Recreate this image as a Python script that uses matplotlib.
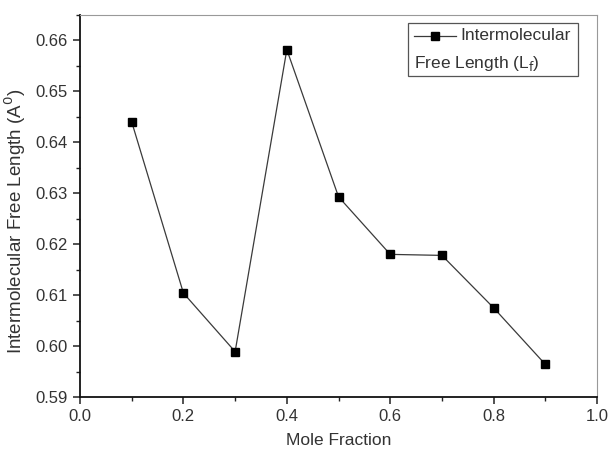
import matplotlib
matplotlib.use('Agg')
import matplotlib.pyplot as plt
from matplotlib.lines import Line2D
from matplotlib.patches import Rectangle
from matplotlib.ticker import MultipleLocator, FormatStrFormatter

plt.rcParams['font.family'] = ['Liberation Sans', 'DejaVu Sans']

# intermolecular free length vs mole fraction
mole_fraction = [0.1, 0.2, 0.3, 0.4, 0.5, 0.6, 0.7, 0.8, 0.9]
free_length = [0.6440, 0.6104, 0.5989, 0.6582, 0.6293, 0.6180, 0.6178, 0.6075, 0.5964]

fig = plt.figure(figsize=(6.08, 4.5), dpi=100)
ax = fig.add_axes([0.1316, 0.1178, 0.8504, 0.8489])

ax.plot(mole_fraction, free_length, color='#3a3a3a', lw=0.9,
        marker='s', markersize=5.5, markerfacecolor='black', markeredgecolor='black')

ax.set_xlim(0.0, 1.0)
ax.set_ylim(0.59, 0.665)
ax.xaxis.set_major_locator(MultipleLocator(0.2))
ax.xaxis.set_minor_locator(MultipleLocator(0.1))
ax.yaxis.set_major_locator(MultipleLocator(0.01))
ax.yaxis.set_minor_locator(MultipleLocator(0.005))
ax.xaxis.set_major_formatter(FormatStrFormatter('%.1f'))
ax.yaxis.set_major_formatter(FormatStrFormatter('%.2f'))

ax.tick_params(which='both', direction='out', top=False, right=False,
               labelsize=12, colors='#222222', labelcolor='#333333')
ax.tick_params(which='major', length=5, width=1.1, pad=4)
ax.tick_params(which='minor', length=3, width=1.0)

for s in ['left', 'bottom']:
    ax.spines[s].set_linewidth(1.3)
    ax.spines[s].set_color('#111111')
for s in ['top', 'right']:
    ax.spines[s].set_linewidth(0.8)
    ax.spines[s].set_color('#999999')

ax.set_xlabel('Mole Fraction', fontsize=12.5, color='#333333', labelpad=6)
ax.set_ylabel('Intermolecular Free Length (A$^0$)', fontsize=13.5, color='#333333')
ax.yaxis.set_label_coords(-0.10, 0.46)

# legend box, handle on the first line and the wrapped label below it
ax.add_patch(Rectangle((0.634, 0.840), 0.329, 0.138, transform=ax.transAxes,
                       facecolor='white', edgecolor='#555555', lw=0.9, zorder=5))
ax.add_line(Line2D([0.645, 0.728], [0.945, 0.945], transform=ax.transAxes,
                   color='#3a3a3a', lw=0.9, zorder=6))
ax.add_line(Line2D([0.686], [0.945], transform=ax.transAxes, color='black',
                   marker='s', markersize=5.5, zorder=7))
ax.text(0.735, 0.945, 'Intermolecular', transform=ax.transAxes, fontsize=12.5,
        color='#333333', va='center', ha='left', zorder=8)
ax.text(0.645, 0.873, r'Free Length (L$_\mathrm{f}$)', transform=ax.transAxes, fontsize=12.5,
        color='#333333', va='center', ha='left', zorder=8)

fig.savefig('out.png', dpi=100)
